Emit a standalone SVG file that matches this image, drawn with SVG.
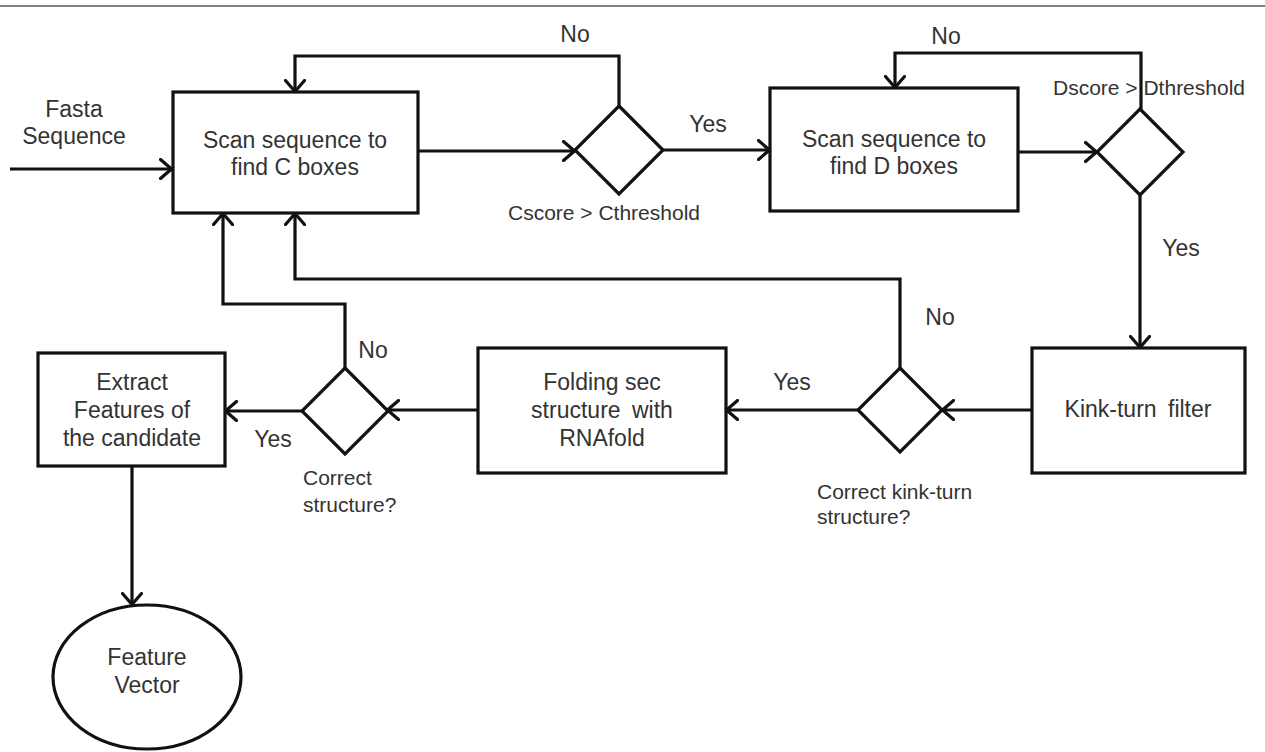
<svg xmlns="http://www.w3.org/2000/svg" width="1265" height="752" viewBox="0 0 1265 752">
  <style>
    .shape { fill: #ffffff; stroke: #111111; stroke-width: 3.2; }
    .wire { fill: none; stroke: #111111; stroke-width: 3.2; }
    .lbl { font-family: "Liberation Sans", Arial, sans-serif; font-size: 23px; fill: #333333; text-anchor: middle; }
    .cond { font-family: "Liberation Sans", Arial, sans-serif; font-size: 21px; fill: #333333; }
  </style>
  <defs>
    <marker id="arrow" viewBox="0 0 14 22" refX="13" refY="11" markerWidth="14" markerHeight="22" markerUnits="userSpaceOnUse" orient="auto">
      <path d="M1.5,1.5 L12.5,11 L1.5,20.5" fill="none" stroke="#111111" stroke-width="3.2" stroke-linecap="round" stroke-linejoin="round"/>
    </marker>
  </defs>

  <rect width="1265" height="752" fill="#ffffff"/>
  <!-- header rule -->
  <line x1="0" y1="6" x2="1265" y2="6" stroke="#808080" stroke-width="2"/>

  <!-- connectors -->
  <g id="connectors" class="wire" marker-end="url(#arrow)">
    <path d="M10,169 H172"/>
    <path d="M418,151 H575"/>
    <path d="M619,106 V56 H295 V92"/>
    <path d="M663,150 H770"/>
    <path d="M1018,152 H1097"/>
    <path d="M1141,109 V53 H895 V88"/>
    <path d="M1140,195 V348"/>
    <path d="M1032,410 H942"/>
    <path d="M858,410 H726"/>
    <path d="M900,368 V279 H295 V213"/>
    <path d="M478,410 H387"/>
    <path d="M303,411 H225"/>
    <path d="M345,368 V304 H223 V213"/>
    <path d="M132,466 V605"/>
  </g>

  <!-- edge labels -->
  <g id="edge-labels">
    <text class="lbl" x="74" y="117">Fasta</text>
    <text class="lbl" x="74" y="144">Sequence</text>
    <text class="lbl" x="575" y="42">No</text>
    <text class="lbl" x="708" y="132">Yes</text>
    <text class="lbl" x="946" y="44">No</text>
    <text class="lbl" x="1181" y="256">Yes</text>
    <text class="lbl" x="940" y="325">No</text>
    <text class="lbl" x="792" y="390">Yes</text>
    <text class="lbl" x="373" y="358">No</text>
    <text class="lbl" x="273" y="447">Yes</text>
  </g>

  <g id="scan-c">
    <rect class="shape" x="173" y="92" width="245" height="121"/>
    <text class="lbl" x="295" y="148">Scan sequence to</text>
    <text class="lbl" x="295" y="175">find C boxes</text>
  </g>

  <g id="check-c">
    <polygon class="shape" points="619,106 663,150 619,194 575,150"/>
    <text class="cond" x="604" y="220" text-anchor="middle">Cscore &gt; Cthreshold</text>
  </g>

  <g id="scan-d">
    <rect class="shape" x="770" y="88" width="248" height="123"/>
    <text class="lbl" x="894" y="147">Scan sequence to</text>
    <text class="lbl" x="894" y="174">find D boxes</text>
  </g>

  <g id="check-d">
    <polygon class="shape" points="1140,109 1183,152 1140,195 1097,152"/>
    <text class="cond" x="1053" y="95">Dscore &gt; Dthreshold</text>
  </g>

  <g id="kink-filter">
    <rect class="shape" x="1032" y="348" width="213" height="125"/>
    <text class="lbl" x="1138" y="417" word-spacing="5">Kink-turn filter</text>
  </g>

  <g id="check-kink">
    <polygon class="shape" points="900,368 942,410 900,452 858,410"/>
    <text class="cond" x="817" y="499">Correct kink-turn</text>
    <text class="cond" x="817" y="524">structure?</text>
  </g>

  <g id="folding">
    <rect class="shape" x="478" y="348" width="248" height="125"/>
    <text class="lbl" x="602" y="390">Folding sec</text>
    <text class="lbl" x="602" y="418" word-spacing="5">structure with</text>
    <text class="lbl" x="602" y="446">RNAfold</text>
  </g>

  <g id="check-structure">
    <polygon class="shape" points="345,368 388,411 345,454 302,411"/>
    <text class="cond" x="303" y="485">Correct</text>
    <text class="cond" x="303" y="512">structure?</text>
  </g>

  <g id="extract">
    <rect class="shape" x="38" y="353" width="187" height="113"/>
    <text class="lbl" x="132" y="390">Extract</text>
    <text class="lbl" x="132" y="418">Features of</text>
    <text class="lbl" x="132" y="446">the candidate</text>
  </g>

  <g id="feature-vector">
    <ellipse class="shape" cx="147" cy="677" rx="94" ry="72"/>
    <text class="lbl" x="147" y="665">Feature</text>
    <text class="lbl" x="147" y="693">Vector</text>
  </g>
</svg>
